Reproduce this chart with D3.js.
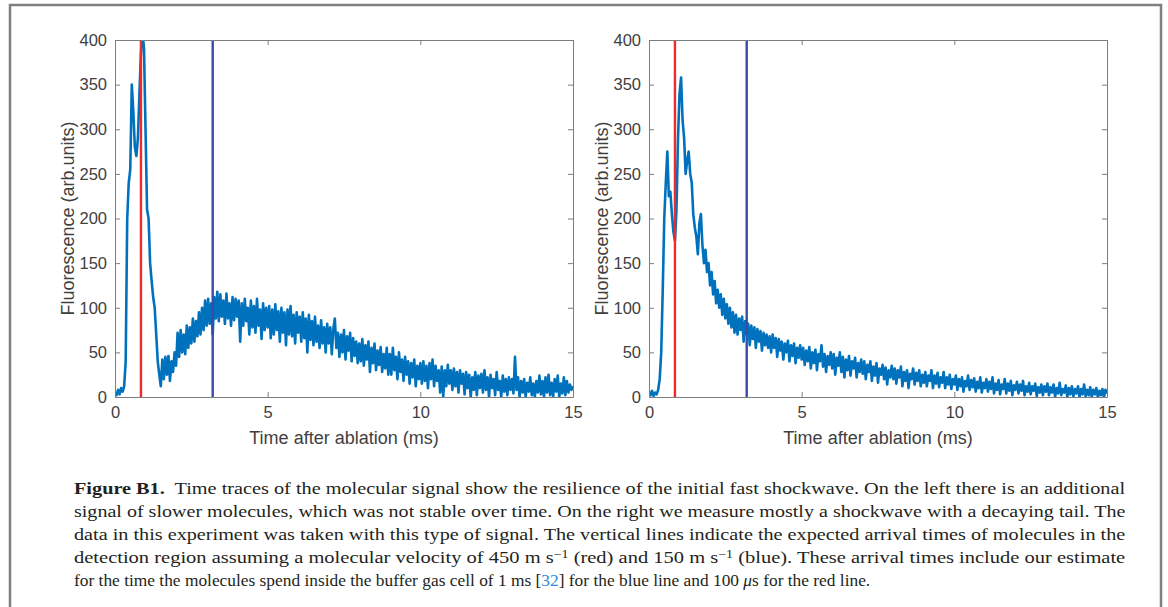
<!DOCTYPE html>
<html>
<head>
<meta charset="utf-8">
<script src="https://cdn.jsdelivr.net/npm/d3@7"></script>
<style>
  body { margin: 0; background: #fff; }
  svg { display: block; }
</style>
</head>
<body>
<div id="fig"></div>
<script>
/* ── Data ── */
const DT = 0.05;                      // ms between samples
const xTicks = [0, 5, 10, 15];
const yTicks = [0, 50, 100, 150, 200, 250, 300, 350, 400];

// left: fast shockwave + slow molecules
const leftTrace = [
  5,2,8,3,10,6,12,40,200,240,255,350,320,280,270,290,340,385,410,390,
  300,210,200,150,130,112,100,70,40,25,12,42,20,45,25,46,18,40,28,50,
  35,72,45,75,50,70,48,80,55,78,60,88,62,85,68,95,70,100,75,108,
  80,110,82,105,70,112,88,118,85,115,90,108,82,116,88,105,80,112,86,110,
  90,108,62,105,80,110,85,100,70,108,78,102,72,110,80,98,65,105,75,100,
  78,102,66,98,70,104,75,96,62,100,72,95,58,98,70,102,68,92,60,95,
  72,90,62,95,66,88,50,92,64,85,58,90,62,80,55,86,60,78,50,82,
  60,78,48,76,88,55,72,45,70,50,75,42,68,52,72,40,66,46,62,38,
  60,40,65,35,58,42,62,28,55,38,60,30,52,36,56,28,48,32,55,25,
  48,25,55,30,45,20,50,28,42,18,45,25,40,15,38,22,42,12,35,20,
  38,15,40,18,35,10,38,20,42,12,35,18,30,5,34,0,30,12,36,15,
  30,8,32,12,28,5,30,15,26,3,28,10,25,0,22,8,28,2,24,10,
  26,5,30,8,22,0,25,10,20,2,28,8,18,0,24,6,20,2,22,8,
  20,4,45,8,22,0,18,5,20,0,16,6,22,2,15,0,18,5,24,3,
  18,0,22,5,25,2,16,0,20,6,24,0,15,4,22,2,18,5,14,8,
  12
];

// right: shockwave with decaying tail
const rightTrace = [
  6,2,7,1,5,3,8,20,50,120,200,240,275,225,230,205,185,175,210,290,
  340,358,310,290,250,265,275,250,240,205,190,180,160,195,205,170,150,165,140,150,
  125,140,115,130,105,120,100,115,92,110,88,104,82,100,78,95,72,92,70,88,
  75,90,62,85,70,82,58,80,65,78,55,76,62,74,52,72,58,70,55,68,
  50,70,55,66,45,65,52,62,42,60,50,63,40,58,46,60,38,55,44,58,
  42,55,36,52,40,56,32,50,38,53,30,48,40,58,34,48,28,46,36,50,
  32,48,25,44,35,50,28,45,22,42,30,46,24,40,32,44,22,38,28,42,
  26,40,20,36,28,40,18,34,24,38,16,32,25,36,20,33,14,30,22,35,
  20,32,15,30,22,34,12,28,18,30,10,26,20,32,14,27,18,30,12,25,
  16,28,12,24,18,30,10,24,15,27,11,22,16,28,10,22,14,25,9,20,
  14,24,8,20,12,22,6,18,12,24,8,19,11,21,6,17,10,22,5,16,
  10,20,6,17,9,22,4,15,8,19,3,14,9,20,4,15,7,18,2,13,
  8,17,4,14,7,18,2,12,6,16,3,12,7,15,1,11,5,14,2,12,
  6,15,2,11,5,14,0,10,4,16,2,9,5,13,0,10,3,12,1,9,
  4,12,0,9,3,14,1,8,2,11,0,8,3,10,0,7,2,9,0,8,
  4
];

// expected arrival times (ms): 450 m/s (red), 150 m/s (blue)
const arrivalTimes  = [0.85, 3.2];
const arrivalColors = ['#ee2a2a', '#3b4aa6'];

const TRACE_CLR = '#0072bd';
const AXIS_CLR  = '#7d7d7d';
const TEXT_CLR  = '#404040';

const W = 1168, H = 607;
const svg = d3.select('#fig').append('svg')
  .attr('width', W).attr('height', H);

/* outer frame (open at the bottom) */
svg.append('path')
  .attr('d', `M10,${H + 5} L10,5 L1161,5 L1161,${H + 5}`)
  .attr('fill', 'none')
  .attr('stroke', '#808080')
  .attr('stroke-width', 2.5);

/* ── Panels ── */
const panels = [
  { id: 'l', left: 115, trace: leftTrace },
  { id: 'r', left: 649, trace: rightTrace },
];
const PW = 458, TOP = 40, BOT = 397;

panels.forEach(p => {
  const x = d3.scaleLinear().domain([0, 15]).range([p.left, p.left + PW]);
  const y = d3.scaleLinear().domain([0, 400]).range([BOT, TOP]);
  const g = svg.append('g');

  g.append('clipPath').attr('id', `clip-${p.id}`)
    .append('rect')
    .attr('x', x(0)).attr('y', y(400))
    .attr('width', x(15) - x(0)).attr('height', y(0) - y(400));

  const plot = g.append('g').attr('clip-path', `url(#clip-${p.id})`);

  const line = d3.line()
    .x((d, i) => x(i * DT))
    .y(d => y(d));

  plot.append('path')
    .datum(p.trace)
    .attr('d', line)
    .attr('fill', 'none')
    .attr('stroke', TRACE_CLR)
    .attr('stroke-width', 2.6)
    .attr('stroke-linejoin', 'round');

  plot.selectAll('line.arrival')
    .data(arrivalTimes)
    .join('line')
    .attr('class', 'arrival')
    .attr('x1', d => x(d)).attr('x2', d => x(d))
    .attr('y1', y(0)).attr('y2', y(400))
    .attr('stroke', (d, i) => arrivalColors[i])
    .attr('stroke-width', 2.4);

  /* axes: box with inward ticks on all four sides */
  const axB = d3.axisBottom(x).tickValues(xTicks).tickSizeInner(-5).tickSizeOuter(0).tickPadding(9);
  const axT = d3.axisTop(x).tickValues(xTicks).tickSizeInner(-5).tickSizeOuter(0).tickFormat('');
  const axL = d3.axisLeft(y).tickValues(yTicks).tickSizeInner(-5).tickSizeOuter(0).tickPadding(8);
  const axR = d3.axisRight(y).tickValues(yTicks).tickSizeInner(-5).tickSizeOuter(0).tickFormat('');

  [[axB, `translate(0,${BOT})`], [axT, `translate(0,${TOP})`],
   [axL, `translate(${p.left},0)`], [axR, `translate(${p.left + PW},0)`]]
    .forEach(([ax, tr]) => {
      const a = g.append('g').attr('transform', tr).call(ax);
      a.select('.domain').attr('stroke', AXIS_CLR);
      a.selectAll('.tick line').attr('stroke', AXIS_CLR);
      a.selectAll('.tick text')
        .attr('fill', TEXT_CLR)
        .attr('font-family', 'Liberation Sans, Arial, sans-serif')
        .attr('font-size', '16.5px');
    });

  g.append('text')
    .attr('x', (x(0) + x(15)) / 2).attr('y', 444)
    .attr('text-anchor', 'middle')
    .attr('fill', TEXT_CLR)
    .attr('font-family', 'Liberation Sans, Arial, sans-serif')
    .attr('font-size', '18px')
    .text('Time after ablation (ms)');

  g.append('text')
    .attr('transform', `translate(${p.left - 41},${(TOP + BOT) / 2}) rotate(-90)`)
    .attr('text-anchor', 'middle')
    .attr('fill', TEXT_CLR)
    .attr('font-family', 'Liberation Sans, Arial, sans-serif')
    .attr('font-size', '18px')
    .text('Fluorescence (arb.units)');
});

/* ── Caption ── */
const captionLines = [
  [{ t: 'Figure B1.', b: true }, { t: '  Time traces of the molecular signal show the resilience of the initial fast shockwave. On the left there is an additional' }],
  [{ t: 'signal of slower molecules, which was not stable over time. On the right we measure mostly a shockwave with a decaying tail. The' }],
  [{ t: 'data in this experiment was taken with this type of signal. The vertical lines indicate the expected arrival times of molecules in the' }],
  [{ t: 'detection region assuming a molecular velocity of 450 m s' }, { t: '−1', sup: true }, { t: ' (red) and 150 m s' }, { t: '−1', sup: true }, { t: ' (blue). These arrival times include our estimate' }],
  [{ t: 'for the time the molecules spend inside the buffer gas cell of 1 ms [' }, { t: '32', link: true }, { t: '] for the blue line and 100 ' }, { t: 'μ', it: true }, { t: 's for the red line.' }],
];
const capWidths = [1052, 1052, 1052, 1052, 797];   // justified lines, ragged last line
const CAP_X = 74, CAP_Y0 = 494, CAP_DY = 23;

const capG = svg.append('g')
  .attr('font-family', 'Liberation Serif, Times New Roman, serif')
  .attr('font-size', '17.5px')
  .attr('fill', '#231f20');

captionLines.forEach((segs, li) => {
  const row = capG.append('g');
  const t = row.append('text')
    .attr('x', 0).attr('y', 0)
    .attr('xml:space', 'preserve')
    .style('white-space', 'pre');
  segs.forEach(s => {
    const ts = t.append('tspan').text(s.t);
    if (s.b) ts.attr('font-weight', 'bold');
    if (s.it) ts.attr('font-style', 'italic');
    if (s.link) ts.attr('fill', '#2f8ad8');
    if (s.sup) ts.attr('baseline-shift', '38%').attr('font-size', '0.68em');
  });
  // condense the serif horizontally so each line spans like the original
  const w = t.node().getComputedTextLength();
  const k = capWidths[li] / w;
  row.attr('transform', `translate(${CAP_X},${CAP_Y0 + li * CAP_DY}) scale(${k},1)`);
});
</script>
</body>
</html>
